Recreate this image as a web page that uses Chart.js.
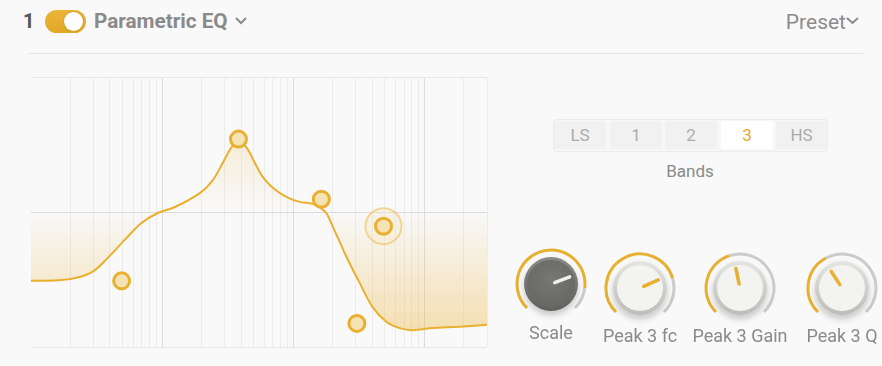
<!DOCTYPE html>
<html><head><meta charset="utf-8">
<script src="https://cdn.jsdelivr.net/npm/chart.js@4/dist/chart.umd.min.js"></script>
<style>
html,body{margin:0;padding:0;background:#f9f9f9;width:882px;height:366px;overflow:hidden;font-family:Roboto,'Noto Sans',sans-serif;}
.abs{position:absolute;white-space:nowrap;}
#num{left:23px;top:11px;font-size:20px;line-height:20px;font-weight:700;color:#555;}
#toggle{left:45px;top:10px;width:41px;height:23px;border-radius:12px;background:linear-gradient(#eab53a,#e2a825);}
#toggle .k{position:absolute;left:19px;top:2px;width:19px;height:19px;border-radius:50%;background:#fff;box-shadow:0 0 2px rgba(0,0,0,0.25);}
#title{left:94px;top:11px;font-size:20.7px;line-height:20px;font-weight:700;color:#8a8a8a;}
#preset{right:36px;top:12px;font-size:21px;line-height:20px;color:#8c8c8c;}
#sep{left:29px;top:53px;width:834px;height:1px;background:#e4e4e4;}
#bands{left:553px;top:119px;width:273px;height:31px;background:#f7f7f7;border:1px solid #ececec;border-radius:3px;}
.btn{position:absolute;top:121px;height:28px;line-height:28px;text-align:center;font-size:17px;color:#ababab;background:#f1f1f1;border-radius:2px;}
.btn.sel{background:#fff;color:#e9a820;}
#bandsLbl{left:640px;width:100px;text-align:center;top:161px;font-size:17px;line-height:20px;color:#8a8a8a;}
.klbl{position:absolute;width:120px;text-align:center;font-size:18px;line-height:20px;color:#8a8a8a;}
#eqwrap{position:absolute;left:30px;top:76px;width:458px;height:272px;}
</style></head><body>
<div class="abs" id="num">1</div>
<div class="abs" id="toggle"><div class="k"></div></div>
<div class="abs" id="title">Parametric EQ</div>
<svg class="abs" style="left:234px;top:16px" width="14" height="10"><polyline points="2,2 7,7 12,2" fill="none" stroke="#8a8a8a" stroke-width="2"/></svg>
<div class="abs" id="preset">Preset</div>
<svg class="abs" style="left:846px;top:16px" width="14" height="10"><polyline points="1,2 6.5,7 12,2" fill="none" stroke="#8a8a8a" stroke-width="2"/></svg>
<div class="abs" id="sep"></div>
<div class="abs" id="bands"></div>
<div id="bandBtns"></div>
<div class="abs" id="bandsLbl">Bands</div>
<div id="eqwrap"><canvas id="eq" width="458" height="272"></canvas></div>
<svg id="knobs" class="abs" style="left:0;top:0" width="882" height="366"></svg>
<div id="knobLbls"></div>
<script>
// ---- EQ response curve (frequency in Hz, gain in dB) ----
const eqFreqs = [10,16.1,21.6,29.2,38.5,52,70,92.7,125,194,243,290,339,384,442,508,585,697,891,1119,1406,1589,1786,2004,2254,2535,2849,3206,4027,5145,6460,8117,11530,18500,30000];
const eqGains = [-10.2,-10.1,-9.8,-8.9,-6.8,-4.1,-1.6,-0.15,0.74,2.8,4.7,7.3,9.6,10.4,9.5,7.3,5.2,3.6,2.2,1.5,1.2,0.7,-0.15,-2.2,-4.4,-6.6,-8.6,-10.5,-14.1,-16.3,-17.2,-17.5,-17.2,-17.0,-16.7];
// ---- band handles ----
const bandNames = ['LS','1','2','HS','3'];
const handleFreqs = [49.1,382,1637,3055,4875];
const handleGains = [-10.2,10.8,1.9,-16.5,-2.1];
const selectedBand = '3';
// ---- grid ----
const gridFreqs = [10,20,30,40,50,60,70,80,90,100,200,300,400,500,600,700,800,900,1000,2000,3000,4000,5000,6000,7000,8000,9000,10000,20000,30000];
const decadeFreqs = [100,1000,10000];
const gainTicks = [-20,0,20];
// ---- band selector ----
const bandButtons = ['LS','1','2','3','HS'];
const bandBtnLeft = [554,610,665,721,776];
const bandBtnWidth = [52,52,52,52,51];
// ---- knobs ----
const knobLabels = ['Scale','Peak 3 fc','Peak 3 Gain','Peak 3 Q'];
const knobPointerDeg = [69,66,-12,-33];
const knobArcEndDeg = [97,74,-18,-28];

const bb = document.getElementById('bandBtns');
bandButtons.forEach((b,i)=>{
  const d=document.createElement('div');
  d.className='btn'+(b===selectedBand?' sel':'');
  d.style.left=bandBtnLeft[i]+'px'; d.style.width=bandBtnWidth[i]+'px';
  d.textContent=b; bb.appendChild(d);
});

// knobs drawing
const kx=[551,640,740,842], ky=[284,288,288,288], ly=[323,326,326,326];
const svg=document.getElementById('knobs');
function pt(cx,cy,r,a){const t=a*Math.PI/180;return [cx+r*Math.sin(t),cy-r*Math.cos(t)];}
function arc(cx,cy,r,a0,a1){const p0=pt(cx,cy,r,a0),p1=pt(cx,cy,r,a1);const large=(a1-a0)>180?1:0;return `M${p0[0].toFixed(2)},${p0[1].toFixed(2)} A${r},${r} 0 ${large} 1 ${p1[0].toFixed(2)},${p1[1].toFixed(2)}`;}
let s=`<defs>
<filter id="sh" x="-50%" y="-50%" width="200%" height="200%"><feDropShadow dx="0" dy="4" stdDeviation="3" flood-color="#000" flood-opacity="0.2"/></filter>
<linearGradient id="lr" x1="0" y1="0" x2="0" y2="1"><stop offset="0" stop-color="#e4e4e1"/><stop offset="1" stop-color="#bcbcb8"/></linearGradient>
<linearGradient id="dr" x1="0" y1="0" x2="0" y2="1"><stop offset="0" stop-color="#8a8a88"/><stop offset="1" stop-color="#60605e"/></linearGradient>
<radialGradient id="df" cx="0.5" cy="0.4" r="0.6"><stop offset="0" stop-color="#777775"/><stop offset="1" stop-color="#676765"/></radialGradient>
</defs>`;
knobLabels.forEach((l,i)=>{
  const cx=kx[i],cy=ky[i],dark=i===0;
  s+=`<path d="${arc(cx,cy,34,-135,knobArcEndDeg[i])}" fill="none" stroke="#e8b030" stroke-width="3"/>`;
  s+=`<path d="${arc(cx,cy,34,knobArcEndDeg[i],135)}" fill="none" stroke="#cbcbcb" stroke-width="3"/>`;
  s+=`<circle cx="${cx}" cy="${cy}" r="27" fill="url(#${dark?'dr':'lr'})" filter="url(#sh)"/>`;
  s+=`<circle cx="${cx}" cy="${cy}" r="${dark?24:23}" fill="${dark?'url(#df)':'#f3f3f1'}"/>`;
  const p0=pt(cx,cy,4,knobPointerDeg[i]),p1=pt(cx,cy,20,knobPointerDeg[i]);
  s+=`<line x1="${p0[0]}" y1="${p0[1]}" x2="${p1[0]}" y2="${p1[1]}" stroke="${dark?'#eeeeee':'#e8b030'}" stroke-width="3.5" stroke-linecap="round"/>`;
});
svg.innerHTML=s;
const kl=document.getElementById('knobLbls');
knobLabels.forEach((l,i)=>{const d=document.createElement('div');d.className='klbl';d.style.left=(kx[i]-60)+'px';d.style.top=ly[i]+'px';d.textContent=l;kl.appendChild(d);});

const fillGrad = (ctx)=>{
  const chart=ctx.chart,a=chart.chartArea; if(!a) return 'transparent';
  const y0=chart.scales.y.getPixelForValue(0);
  const g=chart.ctx.createLinearGradient(0,a.top,0,a.bottom);
  const z=Math.min(1,Math.max(0,(y0-a.top)/(a.bottom-a.top)));
  g.addColorStop(0,'rgba(236,178,52,0.30)');
  g.addColorStop(z,'rgba(236,178,52,0.0)');
  g.addColorStop(1,'rgba(236,178,52,0.42)');
  return g;
};
const sel = bandNames.indexOf(selectedBand);
new Chart(document.getElementById('eq'),{
  type:'line',
  data:{datasets:[
    {data:eqFreqs.map((f,i)=>({x:f,y:eqGains[i]})),borderColor:'#e9b030',borderWidth:2,pointRadius:0,tension:0.35,fill:'origin',backgroundColor:fillGrad,order:3},
    {data:[{x:handleFreqs[sel],y:handleGains[sel]}],showLine:false,pointRadius:18,borderWidth:2,borderColor:'rgba(236,180,60,0.5)',backgroundColor:'rgba(245,227,180,0.25)',order:2,clip:false},
    {data:handleFreqs.map((f,i)=>({x:f,y:handleGains[i]})),showLine:false,pointRadius:8,borderWidth:3,borderColor:'#e9b02f',backgroundColor:'#f5e3b6',order:1,clip:false}
  ]},
  options:{
    responsive:false,animation:false,devicePixelRatio:1,
    layout:{autoPadding:false,padding:{left:1,right:1,top:1,bottom:1}},
    plugins:{legend:{display:false},tooltip:{enabled:false}},
    scales:{
      x:{type:'logarithmic',min:10,max:30000,
        afterBuildTicks:(sc)=>{sc.ticks=gridFreqs.map(v=>({value:v}));},
        ticks:{display:false},border:{display:false},
        grid:{drawTicks:false,lineWidth:1,color:(c)=>{const v=c.tick&&c.tick.value;return decadeFreqs.includes(v)?'#dddddd':(v===10?'rgba(0,0,0,0)':'#ececec');}}},
      y:{type:'linear',min:-20,max:20,
        afterBuildTicks:(sc)=>{sc.ticks=gainTicks.map(v=>({value:v}));},
        ticks:{display:false},border:{display:false},
        grid:{drawTicks:false,color:(c)=>c.tick&&c.tick.value===0?'#dcdcdc':'#e6e6e6'}}
    }
  }
});
</script>
</body></html>
